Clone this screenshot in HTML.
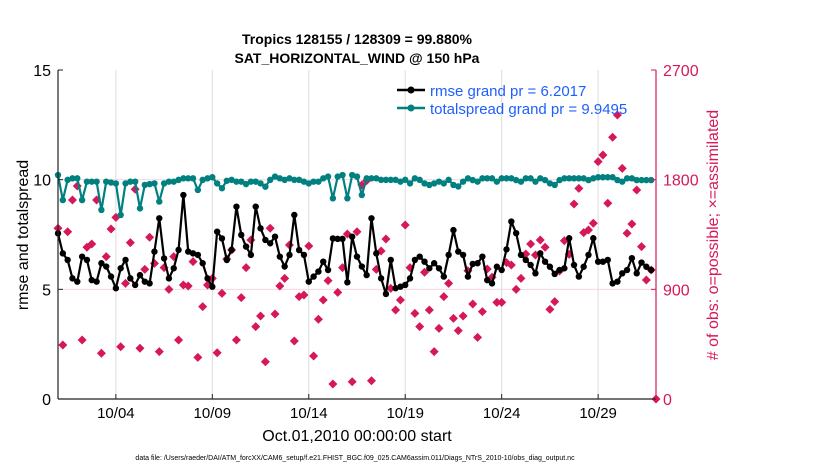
<!DOCTYPE html>
<html><head><meta charset="utf-8"><style>
body{margin:0;background:#fff;}
svg{display:block;font-family:"Liberation Sans",Arial,sans-serif;}
</style></head><body>
<svg id="chart" width="830" height="470" viewBox="0 0 830 470">
<text x="357" y="44" text-anchor="middle" font-size="14" font-weight="bold">Tropics 128155 / 128309 = 99.880%</text>
<text x="357" y="63" text-anchor="middle" font-size="14" font-weight="bold">SAT_HORIZONTAL_WIND @ 150 hPa</text>
<g id="grid"></g>
<g id="series"></g>
<g id="axes"></g>
<text x="28" y="235" text-anchor="middle" font-size="16" transform="rotate(-90 28 235)">rmse and totalspread</text>
<text x="718" y="235" text-anchor="middle" font-size="16" fill="#d6185a" transform="rotate(-90 718 235)"># of obs: o=possible; ×=assimilated</text>
<text x="357" y="441" text-anchor="middle" font-size="16">Oct.01,2010 00:00:00 start</text>
<text x="355" y="460" text-anchor="middle" font-size="7">data file: /Users/raeder/DAI/ATM_forcXX/CAM6_setup/f.e21.FHIST_BGC.f09_025.CAM6assim.011/Diags_NTrS_2010-10/obs_diag_output.nc</text>
<g>
<line x1="397" y1="90" x2="425" y2="90" stroke="#000" stroke-width="2.5"/>
<circle cx="411" cy="90" r="3.5" fill="#000"/>
<text x="430" y="96" font-size="15" fill="#1f5fff">rmse grand pr = 6.2017</text>
<line x1="397" y1="108" x2="425" y2="108" stroke="#00807f" stroke-width="2.5"/>
<circle cx="411" cy="108" r="3.5" fill="#00807f"/>
<text x="430" y="114" font-size="15" fill="#1f5fff">totalspread grand pr = 9.9495</text>
</g>
</svg>
<script>
const rmse=[7.55,6.64,6.34,5.5,5.35,6.49,6.34,5.42,5.35,6.19,6.04,5.58,5.05,5.96,6.34,5.5,5.2,5.65,5.35,5.27,6.72,8.24,6.41,5.5,5.96,6.8,9.3,6.72,6.64,6.57,6.19,5.5,5.12,7.63,7.32,6.34,6.8,8.77,7.48,6.95,6.57,8.77,7.78,7.25,
7.10,7.40,6.49,6.04,6.57,8.39,6.79,6.57,5.35,5.58,5.81,6.26,5.88,7.32,7.30,7.30,5.32,7.40,6.49,6.04,5.65,8.24,6.64,5.50,4.79,6.34,5.05,5.12,5.20,5.50,6.34,6.49,6.26,5.96,6.19,5.96,5.58,6.57,
7.7,6.72,6.57,5.58,6.16,6.19,6.49,5.42,5.27,6.03,5.88,6.82,8.09,7.56,6.57,6.34,6.11,5.73,6.64,6.26,6.03,5.70,5.88,5.96,7.33,6.11,5.58,6.03,6.57,7.33,6.26,6.26,6.34,5.27,5.35,5.73,5.88,6.42,5.73,6.22,6.03,5.88];
const spread=[10.21,9.07,9.99,10.06,10.06,9.07,9.91,9.91,9.91,8.62,9.91,9.87,9.83,8.39,9.83,9.91,9.91,8.69,9.76,9.80,9.83,9.0,9.83,9.91,9.91,9.99,10.06,10.06,10.06,9.53,9.99,10.06,10.11,9.83,9.61,9.95,9.99,9.91,9.91,9.80,9.91,9.91,9.83,9.68,
9.99,10.14,10.06,9.99,10.06,9.99,9.99,9.91,9.83,9.91,9.91,10.06,10.14,9.15,10.14,10.21,9.15,10.21,10.14,9.30,10.06,10.06,10.06,9.99,9.99,9.99,9.99,9.91,9.99,9.83,10.06,9.99,9.83,9.76,9.83,9.91,9.83,9.99,
9.76,9.69,9.91,10.06,9.98,9.91,10.06,10.06,10.06,9.91,10.06,10.06,10.06,9.98,9.91,10.06,10.06,9.91,10.06,9.98,9.83,9.76,9.98,10.06,10.06,10.06,10.06,10.06,9.98,10.06,10.11,10.11,10.11,10.11,9.98,9.91,10.06,10.06,9.98,9.98,9.98,9.98];
const nobs=[1401,443,1373,1633,1748,484,1245,1272,1633,375,1168,1395,1491,429,949,1283,1721,416,1064,1327,1113,389,1078,900,1168,484,936,927,1127,342,758,936,990,380,867,1149,1223,484,832,1078,1305,594,681,306,
1401,698,927,990,1264,476,840,854,1256,353,654,812,971,123,875,1078,1354,142,1373,1756,1792,150,1064,1215,1313,908,730,812,1428,1078,703,594,1040,730,389,580,840,949,
662,561,681,1053,780,506,717,1067,999,793,793,1119,1100,900,990,1190,1272,1182,1305,1245,736,799,1050,1299,1187,1600,1729,1365,1387,1442,1948,2002,1606,2148,2331,1893,1360,1436,1715,1250,977,1059,0];
const xTickDays=[3,8,13,18,23,28];
const xTickLabels=["10/04","10/09","10/14","10/19","10/24","10/29"];
const yTicks=[0,5,10,15];
const y2Ticks=[0,900,1800,2700];
const STEP=0.25;
const X0=58,X1=656,Y0=399,Y1=70;
const xs=d=>X0+(d/31)*(X1-X0);
const ys=v=>Y0-(v/15)*(Y0-Y1);
const ys2=v=>Y0-(v/2700)*(Y0-Y1);
const NS="http://www.w3.org/2000/svg";
function mk(tag,attrs,parent){const e=document.createElementNS(NS,tag);for(const k in attrs)e.setAttribute(k,attrs[k]);parent.appendChild(e);return e;}
const grid=document.getElementById('grid'),ser=document.getElementById('series'),axes=document.getElementById('axes');
xTickDays.forEach((d,i)=>{
 const g=mk('line',{x1:xs(d),x2:xs(d),y1:Y1,y2:Y0,stroke:'#dcdcdc','stroke-width':1},grid);
 
 
 const t=mk('line',{x1:xs(d),x2:xs(d),y1:Y0,y2:Y0-5,stroke:'#222','stroke-width':1},axes);
 
 
 const l=mk('text',{x:xs(d),y:418,'text-anchor':'middle','font-size':15},axes);
 l.textContent=xTickLabels[i];
 
 
});
[5,10].forEach(v=>{
 const g=mk('line',{x1:X0,x2:X1,y1:ys(v),y2:ys(v),stroke:'#f3d8e2','stroke-width':1},grid);
 
 
});
yTicks.forEach(v=>{
 const l=mk('text',{x:51,y:ys(v)+6,'text-anchor':'end','font-size':16},axes);
 l.textContent=v;
 
 
 const t=mk('line',{x1:X0,x2:X0+5,y1:ys(v),y2:ys(v),stroke:'#222'},axes);
 
 
});
y2Ticks.forEach(v=>{
 const l=mk('text',{x:663,y:ys2(v)+6,'font-size':16,fill:'#d6185a'},axes);
 l.textContent=v;
 
 
 const t=mk('line',{x1:X1-5,x2:X1,y1:ys2(v),y2:ys2(v),stroke:'#d6185a'},axes);
 
 
});
const la=mk('line',{x1:X0,x2:X0,y1:Y1,y2:Y0,stroke:'#222','stroke-width':1.2},axes);


const ba=mk('line',{x1:X0,x2:X1,y1:Y0,y2:Y0,stroke:'#222','stroke-width':1.2},axes);


const ra=mk('line',{x1:X1,x2:X1,y1:Y1,y2:Y0,stroke:'#d6185a','stroke-width':1.2},axes);


nobs.forEach((v,i)=>{
 const cx=xs(i*STEP),cy=ys2(v),r=4.5;
 const p=mk('polygon',{points:`${cx},${cy-r} ${cx+r},${cy} ${cx},${cy+r} ${cx-r},${cy}`,fill:'#d6185a'},ser);
 
 
});
function line(vals,color,name){
 const pts=vals.map((v,i)=>xs(i*STEP)+','+ys(v)).join(' ');
 const pl=mk('polyline',{points:pts,fill:'none',stroke:color,'stroke-width':2.2,'stroke-linejoin':'round'},ser);
 
 
 vals.forEach((v,i)=>{
  const c=mk('circle',{cx:xs(i*STEP),cy:ys(v),r:3.2,fill:color},ser);
  
  
 });
}
line(spread,'#00807f','totalspread');
line(rmse,'#000000','rmse');
</script>
</body></html>
